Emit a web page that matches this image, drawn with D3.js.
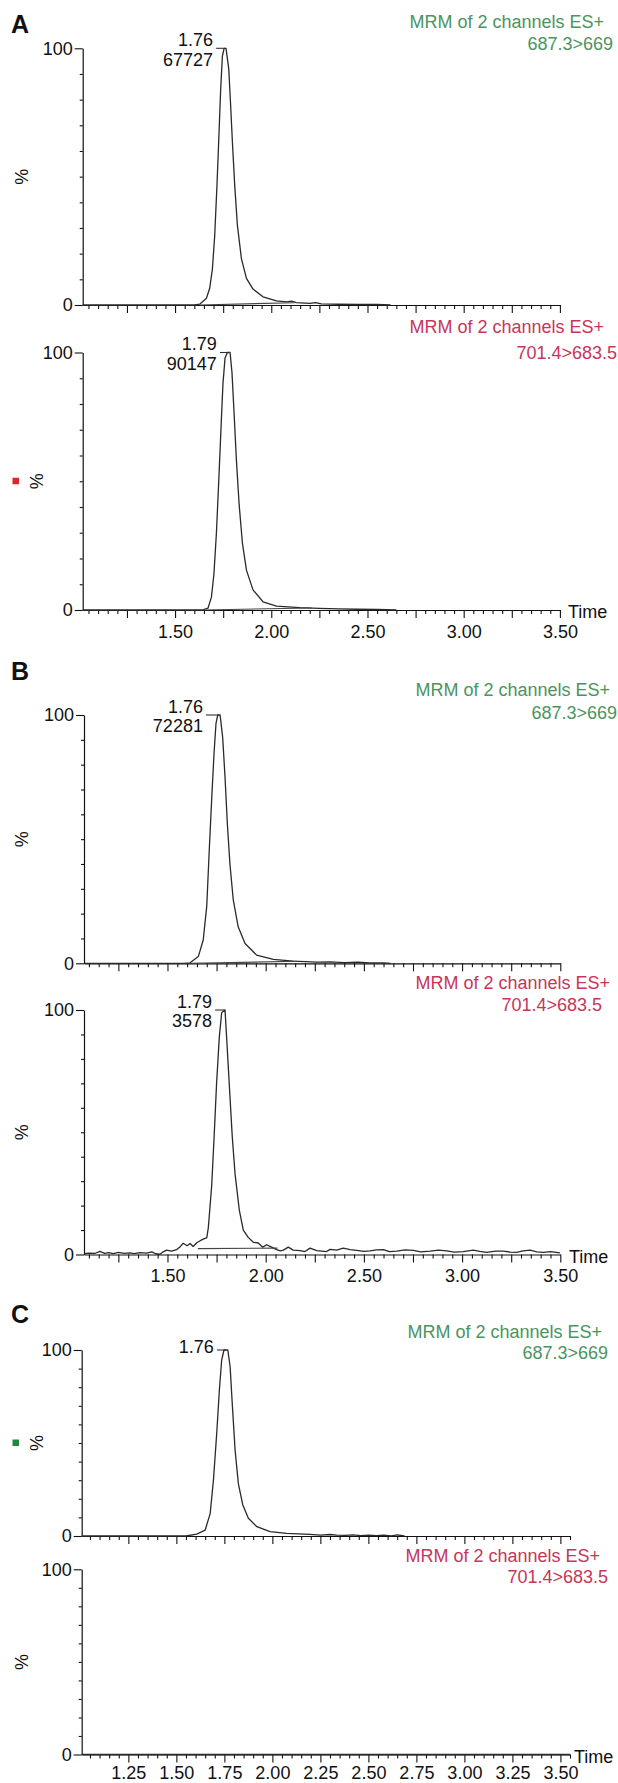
<!DOCTYPE html>
<html>
<head>
<meta charset="utf-8">
<script src="https://cdn.jsdelivr.net/npm/d3@7/dist/d3.min.js"></script>
<style>
body{margin:0;background:#fff;}
svg text{font-family:"Liberation Sans",Arial,sans-serif;}
</style>
</head>
<body>
<svg id="chart" width="618" height="1783"></svg>
<script>
// ---- data: [time (min), intensity (%)] ----
var traceA1 = [[1.02,0],[1.60,0],[1.628,0.3],[1.663,2.6],[1.680,6.5],[1.694,14],[1.706,27],[1.718,47],[1.728,66],[1.737,84],[1.746,97],[1.755,100],[1.765,100],[1.779,92],[1.788,79],[1.798,63.5],[1.810,46.7],[1.824,31],[1.845,18],[1.871,10.4],[1.905,6.2],[1.957,3.2],[2.027,1.6],[2.08,1.2],[2.106,1.5],[2.13,0.9],[2.20,0.6],[2.23,0.9],[2.26,0.4],[2.35,0.3],[2.45,0.2],[2.55,0.2],[2.62,0]];
var baseA1 = [[1.628,0],[2.12,0.9]];

var traceA2 = [[1.02,0],[1.64,0],[1.671,0.7],[1.689,5],[1.702,14],[1.715,30],[1.727,50],[1.739,71],[1.749,88],[1.760,98],[1.772,100],[1.786,100],[1.796,92],[1.807,76],[1.819,58],[1.833,41],[1.850,26],[1.871,15.5],[1.905,7.8],[1.957,3.2],[2.027,1.5],[2.148,0.9],[2.25,0.6],[2.35,0.4],[2.45,0.3],[2.55,0.2],[2.65,0]];
var baseA2 = [[1.645,0],[2.21,0.8]];

var traceB1 = [[1.075,0],[1.58,0],[1.615,0.2],[1.657,2.7],[1.682,9.4],[1.700,23],[1.713,46],[1.725,66],[1.737,84.5],[1.747,96.6],[1.756,100],[1.768,100],[1.781,91],[1.793,75],[1.805,56],[1.818,40],[1.835,25.5],[1.860,14.7],[1.895,8],[1.954,3.3],[2.039,1.6],[2.14,0.9],[2.26,0.5],[2.33,0.6],[2.40,0.3],[2.47,0.5],[2.53,0.2],[2.60,0.2],[2.636,0]];
var baseB1 = [[1.62,0],[2.16,0.8]];

var traceB2 = [[1.075,0.3],[1.10,0.6],[1.13,0.4],[1.156,1.3],[1.18,0.5],[1.20,0.8],[1.224,0.4],[1.25,0.9],[1.28,0.5],[1.309,0.7],[1.33,0.4],[1.36,0.8],[1.394,0.6],[1.42,1.1],[1.44,0.3],[1.462,0.1],[1.48,1.2],[1.496,1.8],[1.52,1.4],[1.547,2.0],[1.565,3.2],[1.58,4.6],[1.60,3.6],[1.615,4.5],[1.631,3.3],[1.649,4.8],[1.662,5.4],[1.674,6.0],[1.688,6.5],[1.70,6.8],[1.708,11],[1.725,28],[1.738,49],[1.75,70],[1.764,89],[1.776,99],[1.793,100],[1.801,89],[1.815,69],[1.83,48],[1.844,33],[1.866,18],[1.886,10],[1.911,7],[1.937,5],[1.962,4.7],[1.985,3],[2.005,4],[2.03,3],[2.056,2],[2.075,1.5],[2.09,1.8],[2.115,3],[2.14,1.8],[2.175,1.6],[2.20,1.2],[2.226,2.6],[2.26,1.6],[2.31,1.2],[2.328,2.1],[2.361,1.8],[2.395,2.6],[2.43,2.0],[2.463,1.7],[2.50,1.3],[2.531,1.5],[2.565,1.9],[2.599,2.0],[2.63,1.2],[2.667,1.4],[2.71,1.9],[2.752,1.7],[2.79,1.1],[2.837,1.4],[2.88,1.8],[2.922,1.5],[2.96,1.0],[3.006,1.2],[3.057,1.8],[3.09,1.3],[3.125,0.9],[3.17,1.4],[3.21,1.4],[3.245,1.0],[3.278,0.9],[3.31,1.5],[3.346,1.8],[3.38,1.1],[3.413,0.9],[3.45,1.2],[3.498,0.7]];
var baseB2 = [[1.655,2.4],[2.06,2.6]];

var traceC1 = [[1.007,0],[1.55,0],[1.606,1],[1.65,3.2],[1.676,12],[1.693,30],[1.71,55],[1.724,78.5],[1.736,94.6],[1.748,100],[1.768,100],[1.78,91],[1.792,69.5],[1.806,46],[1.823,28],[1.846,16.7],[1.875,9.5],[1.919,5],[1.988,2.3],[2.075,1.4],[2.196,0.9],[2.25,0.5],[2.30,0.8],[2.335,0.5],[2.38,0.3],[2.42,0.6],[2.46,0.2],[2.50,0.5],[2.54,0.2],[2.58,0.5],[2.62,0.1],[2.65,0.6],[2.688,0]];
var traceC2 = [[1.007,0],[3.55,0]];

// tick labels
var tickValsAB = [1.5,2.0,2.5,3.0,3.5];
var tickLabelsAB = ["1.50","2.00","2.50","3.00","3.50"];
var tickValsC = [1.25,1.5,1.75,2.0,2.25,2.5,2.75,3.0,3.25,3.5];
var tickLabelsC = ["1.25","1.50","1.75","2.00","2.25","2.50","2.75","3.00","3.25","3.50"];
var yTickVals = [0,10,20,30,40,50,60,70,80,90,100];

// texts
var titleLine = "MRM of 2 channels ES+";
var channels = ["687.3>669","701.4>683.5"];
var panelLetters = ["A","B","C"];
var peakA1 = ["1.76","67727"], peakA2 = ["1.79","90147"];
var peakB1 = ["1.76","72281"], peakB2 = ["1.79","3578"];
var peakC1 = ["1.76"];
var peakTimes = [1.76,1.785,1.762,1.793,1.758];

var green = "#4b9460", red = "#c8355a";
var svg = d3.select("#chart");

// letters A B C
var letterY = [33,680,1323];
svg.selectAll("text.letter").data(panelLetters).enter().append("text")
   .attr("class","letter")
   .attr("x",11).attr("y",function(d,i){return letterY[i];})
   .attr("font-size",25).attr("font-weight","bold").attr("fill","#111")
   .text(function(d){return d;});

// panel layout
var panels = [
  {trace:traceA1, base:baseA1, dom:[1.02,3.50], x0:82.7, x1:559.9, yt:48.3, yb:305, ch:0, col:green,
   peak:peakA1, pt:peakTimes[0], pl:9, t1:[21.7,604], t2:[43.3,613], pctX:22},
  {trace:traceA2, base:baseA2, dom:[1.02,3.50], x0:82.7, x1:559.9, yt:352.5, yb:610, ch:1, col:red,
   peak:peakA2, pt:peakTimes[1], pl:10, t1:[327,604], t2:[353,617], pctX:36.5, sq:"#e3232d",
   tv:tickValsAB, tl:tickLabelsAB, pad:11, timeX:568},
  {trace:traceB1, base:baseB1, dom:[1.075,3.50], x0:84, x1:560.3, yt:715, yb:963.3, ch:0, col:green,
   peak:peakB1, pt:peakTimes[2], pl:13, t1:[690,610], t2:[713,617], pctX:22},
  {trace:traceB2, base:baseB2, dom:[1.075,3.50], x0:84, x1:560.3, yt:1010, yb:1254.5, ch:1, col:red,
   peak:peakB2, pt:peakTimes[3], pl:10, t1:[983,610], t2:[1005,602], pctX:22,
   tv:tickValsAB, tl:tickLabelsAB, pad:10.5, timeX:569},
  {trace:traceC1, dom:[1.007,3.55], x0:81.7, x1:570, yt:1350, yb:1536, ch:0, col:green,
   peak:peakC1, pt:peakTimes[4], pl:9, t1:[1332,602], t2:[1353,608], pctX:36.5, sq:"#1f8a3c", single:true},
  {trace:traceC2, dom:[1.007,3.55], x0:81.7, x1:570, yt:1569.3, yb:1754.5, ch:1, col:red,
   t1:[1556,600], t2:[1577,608], pctX:22, tv:tickValsC, tl:tickLabelsC, pad:7.5, timeX:574}
];

var capHalf = 6.4; // half cap height of 18px text

panels.forEach(drawPanel);

function drawPanel(p){
  var x = d3.scaleLinear().domain(p.dom).range([p.x0,p.x1]);
  var y = d3.scaleLinear().domain([0,100]).range([p.yb,p.yt]);
  var g = svg.append("g");

  // x axis: minor ticks every 0.05, longer every 0.25
  var minor = d3.range(Math.ceil(p.dom[0]/0.05-1e-6),Math.floor(p.dom[1]/0.05+1e-6)+1).map(function(k){return +(k*0.05).toFixed(2);});
  var xAxis = d3.axisBottom(x).tickValues(minor).tickSize(4).tickSizeOuter(0).tickPadding(p.pad||11)
     .tickFormat(function(d){
        if(!p.tv) return "";
        for(var i=0;i<p.tv.length;i++){ if(Math.abs(p.tv[i]-d)<1e-6) return p.tl[i]; }
        return "";
     });
  var gx = g.append("g").attr("transform","translate(0,"+p.yb+")").call(xAxis);
  gx.selectAll(".tick line").filter(function(d){return Math.abs(d*4-Math.round(d*4))<1e-6;}).attr("y2",8);
  styleAxis(gx);

  // y axis
  var yAxis = d3.axisLeft(y).tickValues(yTickVals).tickSize(3).tickSizeOuter(0).tickPadding(7)
     .tickFormat(function(d){return (d===0||d===100)?d:"";});
  var gy = g.append("g").attr("transform","translate("+p.x0+",0)").call(yAxis);
  gy.selectAll(".tick line").filter(function(d){return d===0||d===100;}).attr("x2",-8);
  styleAxis(gy);

  // chromatogram trace
  var line = d3.line().x(function(d){return x(d[0]);}).y(function(d){return y(d[1]);});
  g.append("path").datum(p.trace).attr("d",line)
   .attr("fill","none").attr("stroke","#2a2a2a").attr("stroke-width",1.3).attr("stroke-linejoin","round");
  if(p.base){
    g.append("path").datum(p.base).attr("d",line)
     .attr("fill","none").attr("stroke","#444").attr("stroke-width",1.1);
  }

  // peak annotation
  if(p.peak){
    var ax = x(p.pt), ay = y(100);
    g.append("line").attr("x1",ax-p.pl).attr("x2",ax).attr("y1",ay).attr("y2",ay)
     .attr("stroke","#333").attr("stroke-width",1.1);
    var offs = p.single ? [-3] : [-8.5,11];
    p.peak.forEach(function(s,i){
      g.append("text").attr("x",ax-p.pl-3).attr("y",ay+offs[i]+capHalf)
       .attr("text-anchor","end").attr("font-size",18).attr("fill","#111").text(s);
    });
  }

  // channel title
  g.append("text").attr("x",p.t1[1]).attr("y",p.t1[0]+capHalf).attr("text-anchor","end")
   .attr("font-size",18).attr("fill",p.col).text(titleLine);
  g.append("text").attr("x",p.t2[1]).attr("y",p.t2[0]+capHalf).attr("text-anchor","end")
   .attr("font-size",18).attr("fill",p.col).text(channels[p.ch]);

  // % label and marker
  var mid = (p.yt+p.yb)/2;
  g.append("text").attr("transform","translate("+p.pctX+","+mid+") rotate(-90)")
   .attr("text-anchor","middle").attr("dy","0.35em").attr("font-size",18).attr("fill","#111").text("%");
  if(p.sq){
    g.append("rect").attr("x",12.5).attr("y",mid-3.5).attr("width",6.5).attr("height",6.5).attr("fill",p.sq);
  }

  if(p.timeX){
    g.append("text").attr("x",p.timeX).attr("y",p.yb+2+capHalf)
     .attr("font-size",18).attr("fill","#111").text("Time");
  }
}

function styleAxis(sel){
  sel.attr("font-size",18).attr("font-family","Liberation Sans, Arial, sans-serif");
  sel.select(".domain").attr("stroke","#111").attr("stroke-width",1.2);
  sel.selectAll(".tick line").attr("stroke","#111").attr("stroke-width",1.1);
  sel.selectAll(".tick text").attr("fill","#111");
}
</script>
</body>
</html>
